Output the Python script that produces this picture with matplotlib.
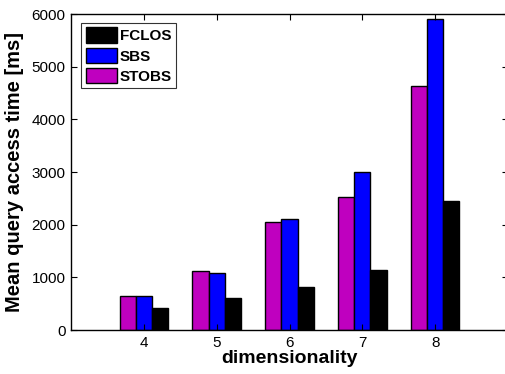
import matplotlib
matplotlib.use("Agg")
import matplotlib.pyplot as plt
import numpy as np

plt.rcParams['font.family'] = ['Liberation Sans', 'DejaVu Sans']

dims = [4, 5, 6, 7, 8]
stobs = [650, 1120, 2050, 2520, 4630]
sbs = [640, 1090, 2100, 3000, 5910]
fclos = [420, 610, 810, 1140, 2440]
yticks = [0, 1000, 2000, 3000, 4000, 5000, 6000]

fig = plt.figure(figsize=(5.05, 3.74), dpi=100)
ax = fig.add_axes([71 / 505, 44 / 374, 437 / 505, 316 / 374])

x = np.array(dims, dtype=float)
w = 2.0 / 9.0
edge = dict(edgecolor='black', linewidth=1.0)
ax.bar(x - w, stobs, width=w, color='#bf00bf', label='STOBS', **edge)
ax.bar(x, sbs, width=w, color='#0000ff', label='SBS', **edge)
ax.bar(x + w, fclos, width=w, color='#000000', label='FCLOS', **edge)

ax.set_xlim(3, 9)
ax.set_ylim(0, 6000)
ax.set_xticks(dims)
ax.set_yticks(yticks)
ax.tick_params(direction='in', length=4, width=0.8, labelsize=11,
               top=True, right=True, pad=4)
for s in ax.spines.values():
    s.set_linewidth(1.0)

ax.set_xlabel('dimensionality', fontsize=14, fontweight='bold', labelpad=0)
ax.set_ylabel('Mean query access time [ms]', fontsize=14.5, fontweight='bold',
              labelpad=5)

handles, labels = ax.get_legend_handles_labels()
order = [2, 1, 0]
leg = ax.legend([handles[i] for i in order], [labels[i] for i in order],
                loc='upper left', bbox_to_anchor=(0.024, 0.972),
                prop={'weight': 'bold', 'size': 11}, frameon=True,
                fancybox=False, edgecolor='black', handlelength=2.0,
                handleheight=1.15, handletextpad=0.2, labelspacing=0.3,
                borderpad=0.3, borderaxespad=0)
leg.get_frame().set_linewidth(0.8)

fig.savefig('out.png', dpi=100)
